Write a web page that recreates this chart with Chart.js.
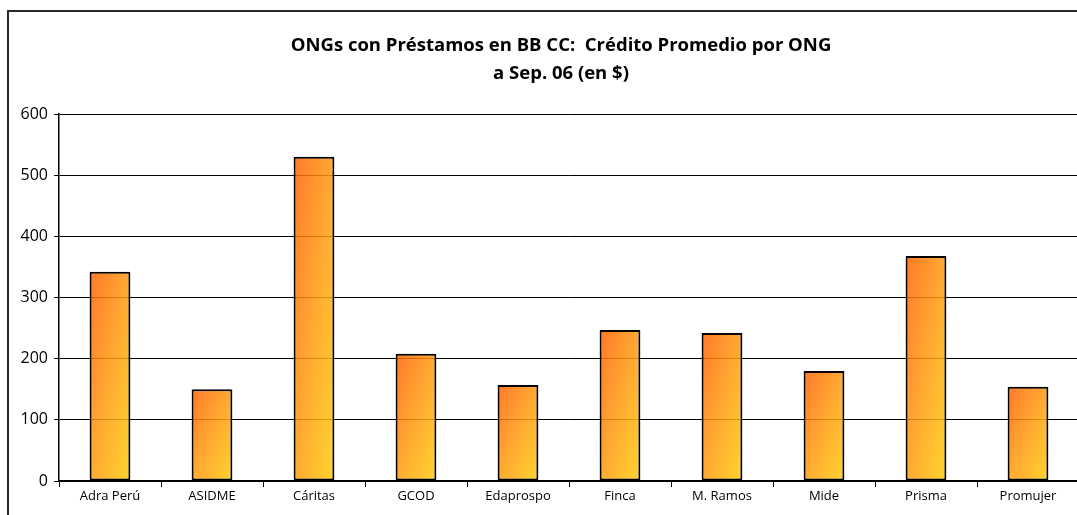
<!DOCTYPE html>
<html>
<head>
<meta charset="utf-8">
<script src="https://cdn.jsdelivr.net/npm/chart.js@4"></script>
<style>
  html, body { margin: 0; padding: 0; background: #fff; overflow: hidden; }
  #wrap { width: 1077px; height: 515px; overflow: hidden; }
</style>
</head>
<body>
<div id="wrap"><canvas id="ongChart" width="1122" height="515"></canvas></div>
<script>
// data
const categories = ['Adra Perú', 'ASIDME', 'Cáritas', 'GCOD', 'Edaprospo', 'Finca', 'M. Ramos', 'Mide', 'Prisma', 'Promujer'];
const creditoPromedio = [342, 150, 530, 208, 157, 247, 242, 180, 368, 154];
const titleLines = ['ONGs con Préstamos en BB CC:  Crédito Promedio por ONG', 'a Sep. 06 (en $)'];
const yMin = 0;
const yMax = 600;
const yStep = 100;

const fontFamily = '"Open Sans", "DejaVu Sans", sans-serif';
const barPct = 0.4;

// per-bar diagonal gradient (in box coordinates, like an office fill):
// orange top-left -> yellow bottom-right. slightly transparent so the grid shows through
function barGradient(context) {
    const chart = context.chart;
    const area = chart.chartArea;
    if (!area || context.type !== 'data') return 'rgba(255,154,14,0.85)';
    const xs = chart.scales.x, ys = chart.scales.y;
    const xc = xs.getPixelForValue(context.dataIndex);
    const w = xs.width / categories.length * barPct;
    const top = ys.getPixelForValue(context.raw);
    const h = Math.max(ys.getPixelForValue(0) - top, 1);
    const ax = 1 / (2 * w), ay = 1 / (2 * h);
    const n = ax * ax + ay * ay;
    const x0 = xc - w / 2, y0 = top;
    const g = chart.ctx.createLinearGradient(x0, y0, x0 + ax / n, y0 + ay / n);
    g.addColorStop(0, 'rgba(255,98,4,0.85)');
    g.addColorStop(0.5, 'rgba(255,154,14,0.85)');
    g.addColorStop(1, 'rgba(255,205,9,0.85)');
    return g;
}

// white page, the outer chart frame (it runs off the right and bottom edges) and the title,
// which is centred on the frame rather than on the visible window
const framePlugin = {
    id: 'frame',
    beforeDraw(chart) {
        const ctx = chart.ctx;
        ctx.save();
        ctx.fillStyle = '#fff';
        ctx.fillRect(0, 0, chart.width, chart.height);
        ctx.strokeStyle = '#2a2a2a';
        ctx.lineWidth = 2;
        ctx.strokeRect(8, 11, chart.width + 20, chart.height + 20);

        ctx.fillStyle = '#000';
        ctx.font = 'bold 18.5px ' + fontFamily;
        ctx.textAlign = 'center';
        ctx.textBaseline = 'middle';
        titleLines.forEach((line, i) => {
            ctx.fillText(line, 561, 46 + i * 28);
        });
        ctx.restore();
    }
};

new Chart(document.getElementById('ongChart'), {
    type: 'bar',
    data: {
        labels: categories,
        datasets: [{
            data: creditoPromedio,
            backgroundColor: barGradient,
            borderColor: '#000',
            borderWidth: 2,
            borderSkipped: false,
            categoryPercentage: 1,
            barPercentage: barPct
        }]
    },
    options: {
        responsive: false,
        animation: false,
        layout: { padding: { left: 0, right: 43, top: 114, bottom: 0 } },
        plugins: {
            legend: { display: false },
            tooltip: { enabled: false },
            title: { display: false }
        },
        scales: {
            x: {
                grid: {
                    drawOnChartArea: false,
                    drawTicks: true,
                    tickLength: 6,
                    color: '#000',
                    offset: true
                },
                border: { color: '#000', width: 1.5 },
                ticks: {
                    color: '#000',
                    font: { family: fontFamily, size: 13 },
                    padding: 1,
                    maxRotation: 0
                },
                afterFit(scale) { scale.height = 34; }
            },
            y: {
                min: yMin,
                max: yMax,
                ticks: {
                    stepSize: yStep,
                    color: '#000',
                    font: { family: fontFamily, size: 16 },
                    padding: 6
                },
                grid: {
                    color: '#000',
                    lineWidth: 1,
                    tickLength: 5
                },
                border: { color: '#000', width: 1.5 },
                afterFit(scale) { scale.width = 59; }
            }
        }
    },
    plugins: [framePlugin]
});
</script>
</body>
</html>
